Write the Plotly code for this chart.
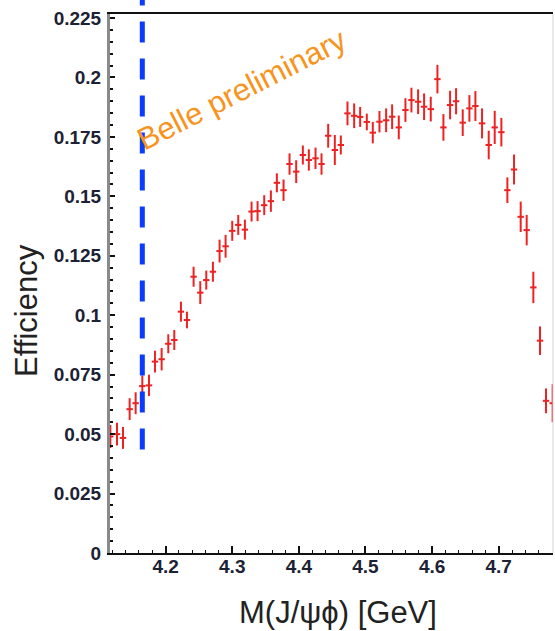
import plotly.graph_objects as go

# Invariant mass bin centres [GeV]
mass = [
    4.117, 4.127, 4.136, 4.146, 4.155, 4.165, 4.175, 4.184, 4.194, 4.204,
    4.213, 4.223, 4.232, 4.242, 4.252, 4.261, 4.271, 4.281, 4.290, 4.300,
    4.309, 4.319, 4.329, 4.338, 4.348, 4.358, 4.367, 4.377, 4.386, 4.396,
    4.406, 4.415, 4.425, 4.434, 4.444, 4.454, 4.463, 4.473, 4.483, 4.492,
    4.502, 4.511, 4.521, 4.531, 4.540, 4.550, 4.560, 4.569, 4.579, 4.588,
    4.598, 4.608, 4.617, 4.627, 4.636, 4.646, 4.656, 4.665, 4.675, 4.685,
    4.694, 4.704, 4.713, 4.723, 4.733, 4.742, 4.752, 4.762, 4.771, 4.781,
]

# Reconstruction efficiency per bin
efficiency = [
    0.0490, 0.0500, 0.0484, 0.0605, 0.0630, 0.0702, 0.0705, 0.0805, 0.0815, 0.0880,
    0.0896, 0.1015, 0.0980, 0.1162, 0.1095, 0.1148, 0.1183, 0.1270, 0.1290, 0.1355,
    0.1380, 0.1360, 0.1436, 0.1438, 0.1463, 0.1480, 0.1557, 0.1526, 0.1636, 0.1604,
    0.1674, 0.1653, 0.1660, 0.1636, 0.1755, 0.1695, 0.1716, 0.1849, 0.1839, 0.1834,
    0.1813, 0.1768, 0.1814, 0.1820, 0.1835, 0.1790, 0.1863, 0.1905, 0.1898, 0.1877,
    0.1867, 0.1993, 0.1790, 0.1884, 0.1900, 0.1810, 0.1870, 0.1880, 0.1807, 0.1716,
    0.1790, 0.1770, 0.1526, 0.1613, 0.1414, 0.1358, 0.1117, 0.0893, 0.0640, 0.0630,
]

# Statistical uncertainty on the efficiency
efficiency_err = [
    0.0048, 0.0048, 0.0046, 0.0046, 0.0046, 0.0045, 0.0045, 0.0046, 0.0047, 0.0040,
    0.0042, 0.0042, 0.0035, 0.0042, 0.0048, 0.0040, 0.0042, 0.0048, 0.0048, 0.0042,
    0.0042, 0.0042, 0.0042, 0.0042, 0.0042, 0.0045, 0.0040, 0.0045, 0.0045, 0.0048,
    0.0040, 0.0045, 0.0045, 0.0045, 0.0050, 0.0063, 0.0040, 0.0050, 0.0052, 0.0042,
    0.0035, 0.0045, 0.0045, 0.0050, 0.0052, 0.0050, 0.0050, 0.0052, 0.0052, 0.0056,
    0.0052, 0.0060, 0.0056, 0.0060, 0.0055, 0.0056, 0.0056, 0.0063, 0.0063, 0.0060,
    0.0070, 0.0060, 0.0054, 0.0063, 0.0064, 0.0064, 0.0066, 0.0060, 0.0052, 0.0080,
]

BIN_HALF_WIDTH = 0.0048

# Vertical marker line (mass value and lower end of the line)
THRESHOLD_MASS = 4.165
THRESHOLD_LINE_BOTTOM = 0.0435

X_RANGE = [4.1165, 4.7815]
Y_RANGE = [0.0, 0.2267]

x_ticks = [4.2, 4.3, 4.4, 4.5, 4.6, 4.7]
x_tick_text = ["4.2", "4.3", "4.4", "4.5", "4.6", "4.7"]
y_ticks = [0.0, 0.025, 0.05, 0.075, 0.1, 0.125, 0.15, 0.175, 0.2, 0.225]
y_tick_text = ["0", "0.025", "0.05", "0.075", "0.1", "0.125", "0.15", "0.175", "0.2", "0.225"]

RED = "#ee2222"
BLUE = "#0a3cff"
ORANGE = "#f7941d"
TICK_COLOR = "#1c2233"
FONT = "Liberation Sans, Arial, sans-serif"

fig = go.Figure(
    go.Scatter(
        x=mass,
        y=efficiency,
        mode="markers",
        marker=dict(size=2, color=RED, opacity=0),
        error_x=dict(type="constant", value=BIN_HALF_WIDTH, color=RED, thickness=2, width=0),
        error_y=dict(type="data", array=efficiency_err, color=RED, thickness=2, width=0),
        cliponaxis=True,
        showlegend=False,
        hoverinfo="x+y",
    )
)

tick_font = dict(family=FONT, size=19, color=TICK_COLOR, weight="bold")
title_font = dict(family=FONT, size=31, color="#222222")

fig.update_layout(
    width=555,
    height=631,
    margin=dict(l=110, r=2, t=14, b=78),
    paper_bgcolor="white",
    plot_bgcolor="white",
    xaxis=dict(
        range=X_RANGE,
        tickmode="array",
        tickvals=x_ticks,
        ticktext=x_tick_text,
        ticks="inside",
        ticklen=7,
        tickwidth=1.5,
        tickcolor="#111111",
        ticklabelstandoff=-5,
        minor=dict(tickmode="linear", tick0=4.2, dtick=0.02, ticks="inside",
                   ticklen=3.5, tickwidth=1.3, tickcolor="#111111"),
        showline=True,
        linecolor="#111111",
        linewidth=2,
        mirror=True,
        showgrid=False,
        zeroline=False,
        tickfont=tick_font,
    ),
    yaxis=dict(
        range=Y_RANGE,
        tickmode="array",
        tickvals=y_ticks,
        ticktext=y_tick_text,
        ticks="inside",
        ticklen=5,
        tickwidth=1.5,
        tickcolor="#111111",
        ticklabelstandoff=2,
        minor=dict(tickmode="linear", tick0=0, dtick=0.005, ticks="inside",
                   ticklen=2.5, tickwidth=1.5, tickcolor="#111111"),
        showline=True,
        linecolor="#8a8a8a",
        linewidth=3,
        mirror=False,
        showgrid=False,
        zeroline=False,
        tickfont=tick_font,
    ),
)

# Axis titles
fig.add_annotation(
    text="M(J/ψϕ) [GeV]", xref="paper", yref="paper", x=0.515, y=-0.1095,
    xanchor="center", yanchor="middle", showarrow=False, font=title_font,
)
fig.add_annotation(
    text="Efficiency", xref="paper", yref="paper", x=-0.1874, y=0.451,
    xanchor="center", yanchor="middle", textangle=-90, showarrow=False, font=title_font,
)

# Dashed vertical marker, running up past the top of the frame
fig.add_shape(
    type="line",
    xref="x",
    yref="paper",
    x0=THRESHOLD_MASS,
    x1=THRESHOLD_MASS,
    y0=THRESHOLD_LINE_BOTTOM / Y_RANGE[1],
    y1=1.06,
    line=dict(color=BLUE, width=5, dash="21px,16px"),
)

# Faint right-hand frame edge
fig.add_shape(
    type="line", xref="paper", yref="paper", x0=1, x1=1, y0=0, y1=1,
    line=dict(color="#d4d4d4", width=1),
)

fig.add_annotation(
    text="Belle preliminary",
    xref="paper",
    yref="paper",
    x=0.298,
    y=0.860,
    xanchor="center",
    yanchor="middle",
    textangle=-27,
    showarrow=False,
    font=dict(family=FONT, size=31, color=ORANGE),
)

fig.write_html("out.html")
